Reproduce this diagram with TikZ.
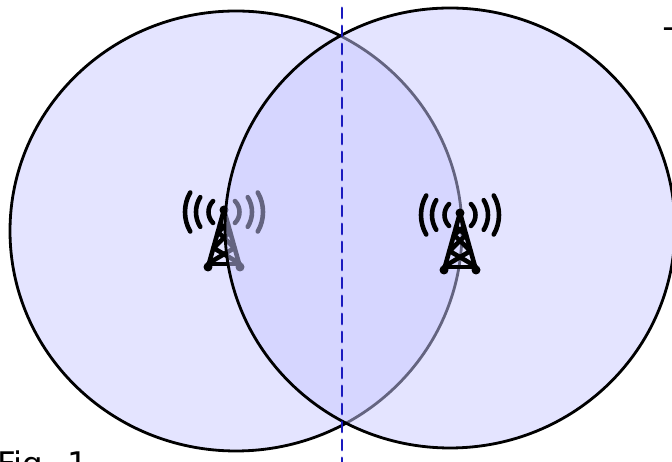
\documentclass[tikz,border=0pt]{standalone}
\usepackage{fontspec}
\setmainfont{DejaVu Sans}
\usepackage{tkz-euclide}
\usetikzlibrary{calc}
\definecolor{CellClr}{rgb}{0.79,0.79,1}
\definecolor{AxisClr}{rgb}{0.1,0.1,0.75}

\tikzset{
  cellarea/.style={fill=CellClr,fill opacity=0.5,draw=black,draw opacity=1,line width=1.6pt},
  mastline/.style={line width=2.6pt,line cap=round,line join=round,color=black},
  captext/.style={anchor=base west,inner sep=0pt,font=\fontsize{18.5}{20}\selectfont}
}

% one mast, with its top at #1
\newcommand{\DrawMast}[1]{
\begin{scope}[shift={(#1)}]
\draw[mastline] (-.32,-1.14) -- (0,0) -- (.32,-1.14);
\draw[mastline] (-.32,-1.08) -- (.32,-1.08);
\draw[mastline] (-.30,-1.06) -- (.21,-.76) -- (-.12,-.44) -- (.08,-.28);
\draw[mastline] (.30,-1.06) -- (-.21,-.76) -- (.12,-.44) -- (-.08,-.28);
\fill (0,0) circle (.09);
\fill (-.32,-1.14) circle (.09);
\fill (.32,-1.14) circle (.09);
\foreach \r/\a in {.31/45,.56/32,.78/30}{
  \draw[mastline] ([shift={(180-\a:\r)}]0,-.04) arc (180-\a:180+\a:\r);
  \draw[mastline] ([shift={(-\a:\r)}]0,-.04) arc (-\a:\a:\r);
}
\end{scope}
}

\begin{document}
\begin{tikzpicture}
\useasboundingbox (0,0) rectangle (13.44,9.24);

\tkzDefPoints{4.72/4.62/CL,9/4.68/CR,4.48/5.04/ML,9.2/4.98/MR,6.84/9.08/DT,6.84/0/DB,13.28/8.2/TT,-.06/-.28/FF}

\draw[cellarea] (CL) ellipse (4.52 and 4.40);
\DrawMast{ML}
\draw[cellarea] (CR) ellipse (4.50 and 4.40);
\DrawMast{MR}

\tkzDrawSegments[line width=1.7pt,color=AxisClr,dash pattern=on .2cm off .16cm](DT,DB)

\node[captext] (txT) at (TT) {T};
\node[captext] (txF) at (FF) {Fig. 1};

\end{tikzpicture}
\end{document}
